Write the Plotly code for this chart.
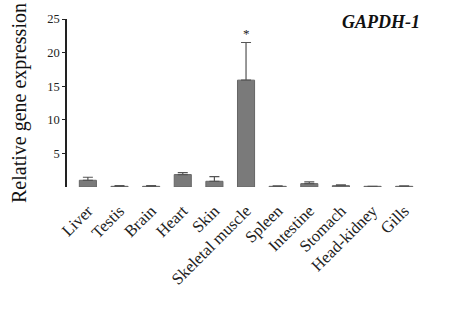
import plotly.graph_objects as go

categories = ["Liver", "Testis", "Brain", "Heart", "Skin", "Skeletal muscle",
              "Spleen", "Intestine", "Stomach", "Head-kidney", "Gills"]
values = [1.0, 0.1, 0.1, 1.85, 0.85, 15.9, 0.1, 0.5, 0.2, 0.1, 0.1]
errors = [0.45, 0.1, 0.1, 0.3, 0.7, 5.6, 0.08, 0.25, 0.12, 0.0, 0.08]
y_ticks = [5, 10, 15, 20, 25]
star_idx = 5
title_text = "<b><i>GAPDH-1</i></b>"
ylabel = "Relative gene expression"

FONT = "Liberation Serif"

fig = go.Figure()
fig.add_trace(go.Bar(
    x=list(range(len(categories))), y=values,
    width=0.54,
    marker=dict(color="#7a7a7a", line=dict(color="#666666", width=1)),
    error_y=dict(type="data", array=errors, arrayminus=[0]*len(errors),
                 symmetric=False, color="#555555", thickness=1.2, width=5),
))

fig.add_annotation(x=star_idx, y=values[star_idx] + errors[star_idx],
                   text="*", showarrow=False, yanchor="bottom", yshift=0,
                   font=dict(family=FONT, size=13, color="#222"))

fig.add_annotation(x=1.007, y=1.0, xref="paper", yref="paper",
                   text=title_text, showarrow=False, xanchor="right", yanchor="top",
                   yshift=9,
                   font=dict(family=FONT, size=18, color="#111"))

fig.update_layout(
    width=458, height=310,
    margin=dict(l=67, r=38, t=12, b=123),
    plot_bgcolor="white", paper_bgcolor="white",
    showlegend=False,
    font=dict(family=FONT, color="#222"),
)
fig.update_xaxes(
    range=[-0.66, 10.5],
    tickmode="array", tickvals=list(range(len(categories))), ticktext=categories,
    tickangle=-45, tickfont=dict(family=FONT, size=16.5, color="#222"),
    ticklabelstandoff=10,
    showline=False, showgrid=False, zeroline=False, ticks="",
)
fig.update_yaxes(
    range=[0, 25], tickvals=y_ticks,
    ticks="outside", ticklen=3, tickwidth=1, tickcolor="#222",
    showline=True, linecolor="#222", linewidth=1.5,
    showgrid=False, zeroline=False,
    tickfont=dict(family=FONT, size=12.5, color="#222"),
    title=dict(text=ylabel, font=dict(family=FONT, size=20, color="#111"), standoff=15),
)

fig.write_html("out.html")
